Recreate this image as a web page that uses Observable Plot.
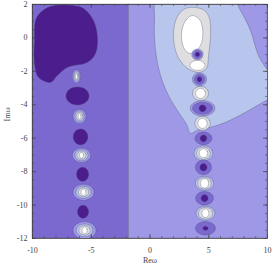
<!DOCTYPE html>
<html><head><meta charset="utf-8">
<script src="https://cdn.jsdelivr.net/npm/d3@7"></script>
<script src="https://cdn.jsdelivr.net/npm/@observablehq/plot@0.6"></script>
<style>body{margin:0;background:#fff}</style>
</head><body><div id="chart"></div>
<script>
// ---- axis ticks ----
const xTicks = [-10, -5, 0, 5, 10];
const yTicks = [2, 0, -2, -4, -6, -8, -10, -12];
const xMinor = d3.range(-10, 10.01, 1);
const yMinor = d3.range(-12, 2.01, 0.5);

// ---- contour levels (0 = lowest) ----
const levels = [0, 1, 2, 3, 4, 5];
const levelColors = ["#4c1d8d", "#7b69d0", "#9e98e7", "#b8c5ec", "#dedee0", "#ffffff"];

// ---- background bands (left / right of Re ≈ -1.8) ----
const bands = [
  {x1: -10, x2: -1.8, level: 1},
  {x1: -1.8, x2: 10, level: 2}
];

// ---- irregular contour regions [Re, Im] ----
const leftBigPole = [[-9.74,1.05],[-9.32,1.52],[-8.47,1.88],[-6.51,1.94],[-5.66,1.76],[-4.81,1.05],[-4.47,0.03],[-4.64,-0.93],[-5.32,-1.46],[-7.02,-1.76],[-7.87,-2.24],[-8.47,-2.66],[-9.49,-2.36],[-9.83,-1.52],[-9.83,-0.15]];
const rightTeardrop = [[0.72,2.72],[0.38,1.05],[0.47,-0.75],[0.89,-2.24],[1.57,-3.44],[2.43,-4.45],[3.11,-5.17],[3.45,-5.71],[4.04,-5.53],[5.15,-5.35],[6.43,-5.05],[8.13,-4.45],[9.57,-3.86],[10.43,-3.5],[10.43,-2.54],[9.23,-1.05],[8.55,0.45],[7.7,1.64],[6.68,2.72]];
const rightGray = [[3.02,1.76],[2.43,1.40],[2.09,0.81],[2.0,-0.03],[2.17,-0.75],[2.51,-1.29],[3.19,-1.82],[4.13,-2.06],[4.81,-1.82],[4.98,-1.05],[5.15,0.15],[5.06,1.17],[4.64,1.64],[3.87,1.82]];
const rightWhite = [[3.62,1.34],[3.11,1.11],[2.77,0.63],[2.68,0.15],[2.77,-0.39],[3.02,-0.75],[3.45,-0.93],[3.96,-0.75],[4.30,-0.45],[4.47,-0.03],[4.47,0.57],[4.21,1.11]];

// ---- small features: center + rings [level, rx, ry] ----
const leftPoles = [
  {cx: -6.17, cy: -3.47, rings: [[0, 0.98, 0.54]]},
  {cx: -5.91, cy: -5.92, rings: [[0, 0.62, 0.47]]},
  {cx: -5.74, cy: -8.16, rings: [[0, 0.51, 0.42]]},
  {cx: -5.70, cy: -10.40, rings: [[0, 0.47, 0.39]]}
];
const leftZeros = [
  {cx: -6.26, cy: -2.30, rings: [[2,0.36,0.40],[3,0.26,0.30],[4,0.18,0.22],[5,0.09,0.16]]},
  {cx: -6.00, cy: -4.69, rings: [[2,0.56,0.43],[3,0.40,0.32],[4,0.28,0.24],[5,0.12,0.17]]},
  {cx: -5.83, cy: -7.02, rings: [[2,0.78,0.43],[3,0.56,0.33],[4,0.39,0.24],[5,0.18,0.17]]},
  {cx: -5.66, cy: -9.23, rings: [[2,0.90,0.48],[3,0.65,0.36],[4,0.45,0.26],[5,0.21,0.19]]},
  {cx: -5.57, cy: -11.51, rings: [[2,0.98,0.52],[3,0.70,0.38],[4,0.48,0.28],[5,0.22,0.2]]}
];
const rightPoles = [
  {cx: 4.04, cy: -0.99, rings: [[2,0.48,0.33],[1,0.34,0.24],[0,0.18,0.13]]},
  {cx: 4.21, cy: -2.48, rings: [[2,0.60,0.40],[1,0.44,0.30],[0,0.20,0.15]]},
  {cx: 4.47, cy: -4.21, rings: [[2,1.05,0.46],[1,0.85,0.36],[0,0.30,0.20]]},
  {cx: 4.55, cy: -6.01, rings: [[1,0.72,0.38],[0,0.28,0.20]]},
  {cx: 4.55, cy: -7.74, rings: [[1,0.68,0.44],[0,0.30,0.22]]},
  {cx: 4.64, cy: -9.59, rings: [[1,0.76,0.40],[0,0.30,0.21]]},
  {cx: 4.72, cy: -11.39, rings: [[1,0.85,0.40],[0,0.22,0.12]]}
];
const rightZeros = [
  {cx: 4.04, cy: -1.64, rings: [[5,0.64,0.30]]},
  {cx: 4.30, cy: -3.32, rings: [[4,0.68,0.42],[5,0.42,0.30]]},
  {cx: 4.47, cy: -5.11, rings: [[4,0.65,0.42],[5,0.40,0.30]]},
  {cx: 4.55, cy: -6.90, rings: [[3,0.80,0.45],[4,0.58,0.36],[5,0.36,0.27]]},
  {cx: 4.64, cy: -8.70, rings: [[3,0.78,0.42],[4,0.58,0.34],[5,0.36,0.28]]},
  {cx: 4.72, cy: -10.49, rings: [[3,0.80,0.42],[4,0.60,0.34],[5,0.30,0.26]]}
];

// ---- build outline table (painter's order) ----
const shapes = [];
let sid = 0;
function addPoly(level, pts) { const id = sid++; pts.forEach(([x, y]) => shapes.push({id, level, x, y})); }
function addFeature(f) {
  f.rings.forEach(([level, rx, ry]) => {
    const id = sid++;
    for (let i = 0; i < 16; i++) {
      const a = i / 16 * 2 * Math.PI;
      shapes.push({id, level, x: f.cx + rx * Math.cos(a), y: f.cy + ry * Math.sin(a)});
    }
  });
}
addPoly(0, leftBigPole);
addPoly(3, rightTeardrop);
addPoly(4, rightGray);
addPoly(5, rightWhite);
leftPoles.forEach(addFeature);
leftZeros.forEach(addFeature);
rightZeros.forEach(addFeature);
rightPoles.forEach(addFeature);

const W = 273, H = 269, mL = 32, mR = 6, mT = 4, mB = 31;
const iW = W - mL - mR, iH = H - mT - mB;
const lineC = "rgba(70,70,100,0.55)";
const axisC = "#444";

const chart = Plot.plot({
  width: W, height: H,
  marginLeft: mL, marginRight: mR, marginTop: mT, marginBottom: mB,
  style: {fontFamily: "'Liberation Serif', 'DejaVu Serif', serif", fontSize: "8px", background: "white", color: "#333"},
  x: {domain: [-10, 10]},
  y: {domain: [-12, 2]},
  color: {type: "ordinal", domain: levels, range: levelColors},
  marks: [
    Plot.rect(bands, {x1: "x1", x2: "x2", fill: "level", stroke: lineC, strokeWidth: 0.6}),
    Plot.line(shapes, {x: "x", y: "y", z: "id", fill: "level", stroke: lineC, strokeWidth: 0.6, curve: "catmull-rom-closed", clip: true}),
    Plot.frame({stroke: axisC, strokeWidth: 0.8}),
    // bottom / top ticks (inward)
    Plot.ruleX(xMinor, {stroke: axisC, strokeWidth: 0.6, insetTop: iH - 2}),
    Plot.ruleX(xTicks, {stroke: axisC, strokeWidth: 0.7, insetTop: iH - 4}),
    Plot.ruleX(xMinor, {stroke: axisC, strokeWidth: 0.6, insetBottom: iH - 2}),
    Plot.ruleX(xTicks, {stroke: axisC, strokeWidth: 0.7, insetBottom: iH - 4}),
    // left / right ticks (inward)
    Plot.ruleY(yMinor, {stroke: axisC, strokeWidth: 0.6, insetRight: iW - 2}),
    Plot.ruleY(yTicks, {stroke: axisC, strokeWidth: 0.7, insetRight: iW - 4}),
    Plot.ruleY(yMinor, {stroke: axisC, strokeWidth: 0.6, insetLeft: iW - 2}),
    Plot.ruleY(yTicks, {stroke: axisC, strokeWidth: 0.7, insetLeft: iW - 4}),
    Plot.axisX(xTicks, {tickSize: 0, tickPadding: 9, label: null, tickFormat: d => String(d), fill: "#444"}),
    Plot.axisY(yTicks, {tickSize: 0, tickPadding: 5, label: null, tickFormat: d => String(d), fill: "#444"}),
    Plot.text(["Reω"], {text: d => d, frameAnchor: "bottom", dy: 24, fill: "#444"}),
    Plot.text(["Imω"], {text: d => d, frameAnchor: "left", dx: -25, rotate: -90, fill: "#444"})
  ]
});
document.getElementById("chart").appendChild(chart);
</script>
</body></html>
